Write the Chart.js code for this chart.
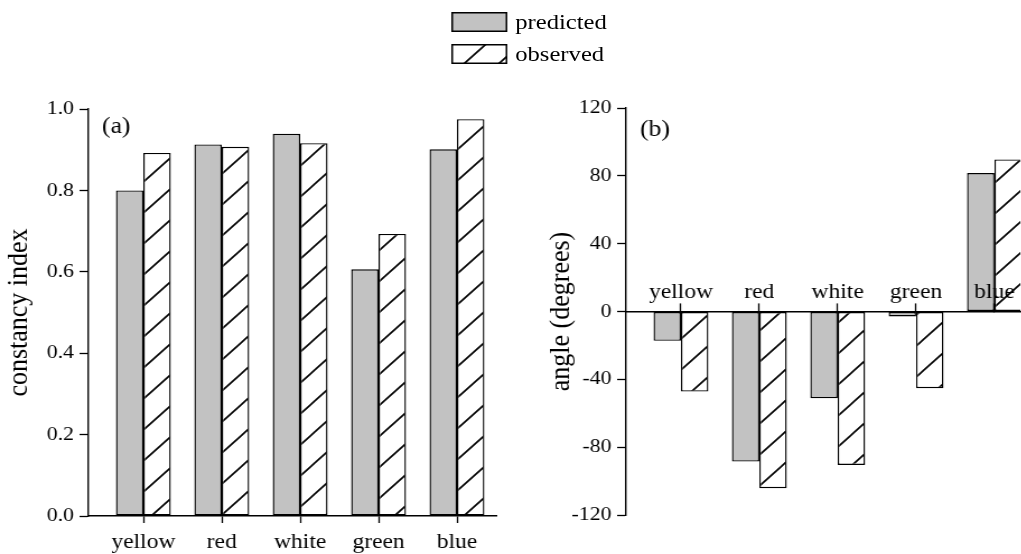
<!DOCTYPE html>
<html>
<head>
<meta charset="utf-8">
<script src="https://cdn.jsdelivr.net/npm/chart.js@4.4.1/dist/chart.umd.min.js"></script>
<style>
  html, body { margin: 0; padding: 0; background: #fff; overflow: hidden; width: 1021px; height: 554px; }
  #wrap { position: absolute; left: 0; top: 0; width: 912px; height: 554px; transform: scaleX(1.12); transform-origin: 0 0; }
  #left { position: absolute; left: 0; top: 0; }
  #right { position: absolute; left: 482px; top: 0; }
  .leg { position: absolute; left: 403px; height: 20px; display: flex; align-items: center;
         font: 22px "Liberation Serif", serif; color: #000; white-space: nowrap; }
  .leg canvas { display: block; margin-right: 7px; }
</style>
</head>
<body>
<div id="wrap">
  <canvas id="left" width="470" height="554"></canvas>
  <canvas id="right" width="430" height="554"></canvas>
  <div class="leg" style="top:12px"><canvas id="swPred" width="50" height="20"></canvas><span>predicted</span></div>
  <div class="leg" style="top:44px"><canvas id="swObs" width="50" height="20"></canvas><span>observed</span></div>
</div>
<script>
// colour categories, placed at x = 1..5
const categories = ["yellow", "red", "white", "green", "blue"];
const positions = [1, 2, 3, 4, 5];

// (a) constancy index
const constancyPredicted = [0.800, 0.913, 0.939, 0.606, 0.901];
const constancyObserved = [0.892, 0.907, 0.916, 0.693, 0.975];
const constancyTicks = [0, 0.2, 0.4, 0.6, 0.8, 1.0];

// (b) angle in degrees
const anglePredicted = [-17.3, -88.5, -51.1, -2.9, 81.6];
const angleObserved = [-47.2, -104.2, -90.5, -45.2, 89.7];
const angleTicks = [-120, -80, -40, 0, 40, 80, 120];

Chart.defaults.font.family = "'Liberation Serif', 'Times New Roman', serif";
Chart.defaults.color = "#000";

const GREY = "#c2c2c2";

function greyFill(ctx) {
  return GREY;
}

function hatchFill(ctx) {
  const n = 31;
  const c = document.createElement("canvas");
  c.width = n; c.height = n;
  const g = c.getContext("2d");
  g.fillStyle = "#fff";
  g.fillRect(0, 0, n, n);
  g.strokeStyle = "#000";
  g.lineWidth = 1.6;
  g.beginPath();
  g.moveTo(-3, n + 3); g.lineTo(n + 3, -3);
  g.moveTo(-3, 3); g.lineTo(3, -3);
  g.moveTo(n - 3, n + 3); g.lineTo(n + 3, n - 3);
  g.stroke();
  return ctx.createPattern(c, "repeat");
}

function swatch(id, fill) {
  const g = document.getElementById(id).getContext("2d");
  g.fillStyle = fill(g);
  g.fillRect(0, 0, 50, 20);
  g.strokeStyle = "#000";
  g.lineWidth = 1.5;
  g.strokeRect(0.75, 0.75, 48.5, 18.5);
}
swatch("swPred", greyFill);
swatch("swObs", hatchFill);

const toPoints = (vals) => vals.map((v, i) => ({ x: positions[i], y: v }));

const panelLabel = (text, dx, y) => ({
  id: "panelLabel",
  afterDraw(chart) {
    const c = chart.ctx;
    c.save();
    c.font = "23px 'Liberation Serif', serif";
    c.fillStyle = "#000";
    c.textBaseline = "middle";
    c.fillText(text, chart.chartArea.left + dx, y);
    c.restore();
  }
});

function barSets(ctx, pred, obs) {
  return [
    {
      label: "predicted",
      data: toPoints(pred),
      backgroundColor: greyFill(ctx),
      borderColor: "#000",
      borderWidth: 1.4,
      borderSkipped: false,
      categoryPercentage: 0.7,
      barPercentage: 1.0
    },
    {
      label: "observed",
      data: toPoints(obs),
      backgroundColor: hatchFill(ctx),
      borderColor: "#000",
      borderWidth: 1.4,
      borderSkipped: false,
      categoryPercentage: 0.7,
      barPercentage: 1.0
    }
  ];
}

const axisGrid = (len, z) => ({
  drawOnChartArea: false,
  offset: false,
  tickLength: len,
  color: "#000",
  tickColor: "#000",
  tickWidth: 1.3,
  z: z || -1
});
const axisBorder = (z) => ({ color: "#000", width: 1.4, z: z || 0 });

// (a)
const leftCtx = document.getElementById("left").getContext("2d");
new Chart(leftCtx, {
  type: "bar",
  data: { datasets: barSets(leftCtx, constancyPredicted, constancyObserved) },
  options: {
    responsive: false,
    animation: false,
    devicePixelRatio: 1,
    layout: { padding: { top: 109, right: 27, bottom: 0, left: 0 } },
    plugins: { legend: { display: false }, tooltip: { enabled: false } },
    scales: {
      x: {
        type: "linear",
        min: 0.3,
        max: 5.5,
        offset: false,
        afterBuildTicks: (s) => { s.ticks = positions.map((v) => ({ value: v })); },
        afterFit: (s) => { s.height = 38; s.paddingLeft = 0; s.paddingRight = 0; },
        ticks: {
          callback: (v) => categories[v - 1],
          font: { size: 21 },
          padding: 7,
          autoSkip: false,
          maxRotation: 0
        },
        grid: axisGrid(7),
        border: axisBorder()
      },
      y: {
        min: 0,
        max: 1,
        afterBuildTicks: (s) => { s.ticks = constancyTicks.map((v) => ({ value: v })); },
        afterFit: (s) => { s.width = 79; s.paddingTop = 0; s.paddingBottom = 0; },
        ticks: { callback: (v) => v.toFixed(1), font: { size: 19.5 }, padding: 5 },
        grid: axisGrid(8),
        border: axisBorder(),
        title: { display: true, text: "constancy index", font: { size: 26 }, padding: { top: 2, bottom: 0 } }
      }
    }
  },
  plugins: [panelLabel("(a)", 12, 127)]
});

// (b)
const rightCtx = document.getElementById("right").getContext("2d");
new Chart(rightCtx, {
  type: "bar",
  data: { datasets: barSets(rightCtx, anglePredicted, angleObserved) },
  options: {
    responsive: false,
    animation: false,
    devicePixelRatio: 1,
    layout: { padding: { top: 108, right: 1, bottom: 39, left: 0 } },
    plugins: { legend: { display: false }, tooltip: { enabled: false } },
    scales: {
      x: {
        type: "linear",
        position: { y: 0 },
        min: 0.3,
        max: 5.33,
        offset: false,
        afterBuildTicks: (s) => { s.ticks = positions.map((v) => ({ value: v })); },
        afterFit: (s) => { s.height = 0; s.paddingLeft = 0; s.paddingRight = 0; },
        ticks: {
          callback: (v) => categories[v - 1],
          font: { size: 21 },
          padding: -23,
          autoSkip: false,
          maxRotation: 0,
          z: 2
        },
        grid: axisGrid(-9, 1),
        border: axisBorder(1)
      },
      y: {
        min: -120,
        max: 120,
        afterBuildTicks: (s) => { s.ticks = angleTicks.map((v) => ({ value: v })); },
        afterFit: (s) => { s.width = 77; s.paddingTop = 0; s.paddingBottom = 0; },
        ticks: { callback: (v) => String(v), font: { size: 19.5 }, padding: 5 },
        grid: axisGrid(8),
        border: axisBorder(),
        title: { display: true, text: "angle (degrees)", font: { size: 26 }, padding: { top: 4, bottom: 0 } }
      }
    }
  },
  plugins: [panelLabel("(b)", 12.4, 130)]
});
</script>
</body>
</html>
